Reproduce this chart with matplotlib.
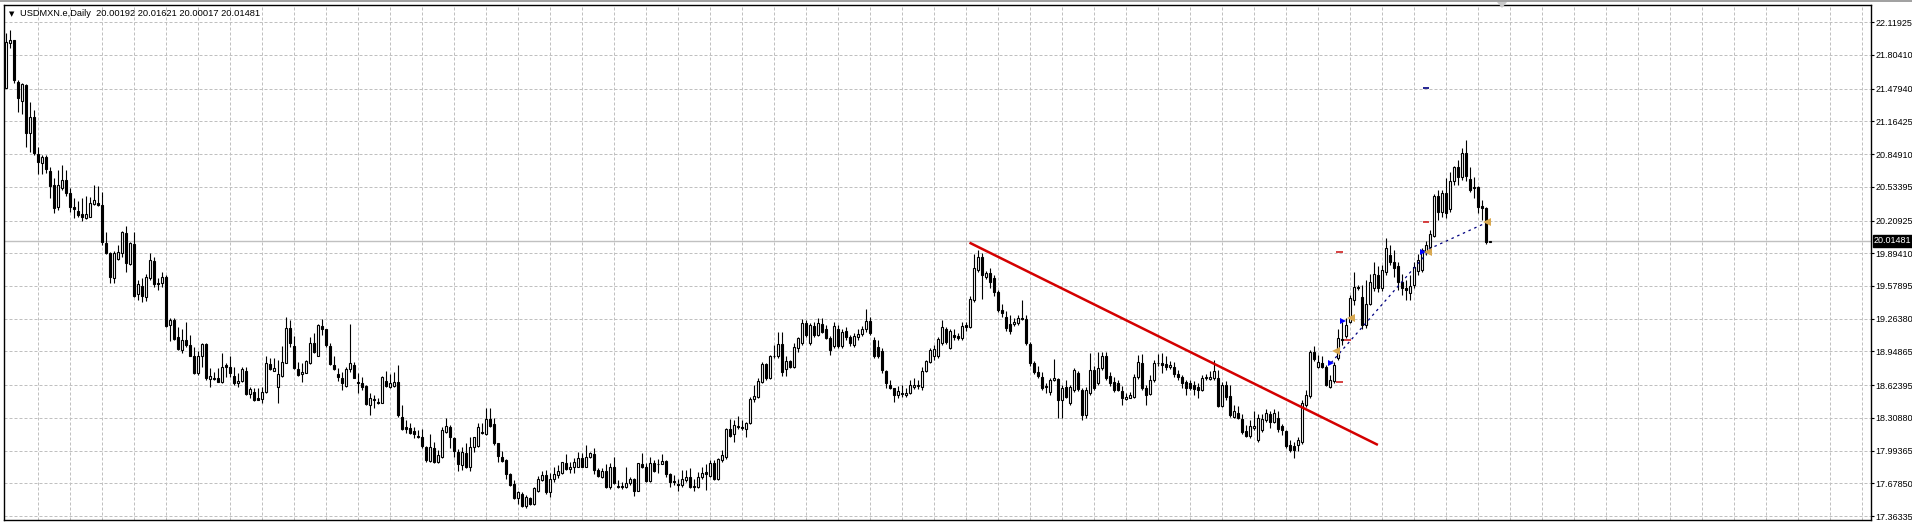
import matplotlib
matplotlib.use("Agg")
import numpy as np
import matplotlib.pyplot as plt
from matplotlib.patches import Polygon

# USDMXN daily candles (oldest first)
title = "USDMXN.e,Daily"
last_quote = "20.00192 20.01621 20.00017 20.01481"
bid = 20.01481

opens = [
    21.49, 21.92, 21.95, 21.54, 21.36, 21.51, 21.05, 21.21, 20.85, 20.76,
    20.82, 20.69, 20.55, 20.34, 20.52, 20.60, 20.47, 20.34, 20.30, 20.27,
    20.23, 20.24, 20.37, 20.38, 20.36, 19.99, 19.90, 19.66, 19.84, 19.90,
    20.09, 19.79, 19.98, 19.50, 19.58, 19.47, 19.66, 19.82, 19.61, 19.61,
    19.67, 19.20, 19.25, 19.09, 18.96, 19.06, 19.01, 18.90, 18.74, 18.90,
    19.02, 18.68, 18.69, 18.69, 18.65, 18.82, 18.80, 18.71, 18.64, 18.66,
    18.76, 18.54, 18.56, 18.50, 18.49, 18.56, 18.83, 18.76, 18.61, 18.71,
    18.84, 19.17, 19.00, 18.78, 18.73, 18.74, 18.84, 19.03, 18.90, 19.19,
    19.16, 19.00, 18.82, 18.73, 18.69, 18.62, 18.78, 18.82, 18.65, 18.64,
    18.62, 18.43, 18.49, 18.46, 18.45, 18.66, 18.61, 18.62, 18.65, 18.32,
    18.22, 18.21, 18.18, 18.13, 18.12, 18.03, 17.89, 18.02, 17.88, 17.93,
    18.17, 18.22, 18.11, 17.98, 17.85, 17.97, 17.84, 18.03, 18.04, 18.17,
    18.15, 18.30, 18.25, 18.07, 17.93, 17.90, 17.77, 17.67, 17.54, 17.58,
    17.46, 17.54, 17.48, 17.60, 17.71, 17.76, 17.59, 17.72, 17.76, 17.78,
    17.87, 17.82, 17.84, 17.84, 17.92, 17.84, 17.93, 17.96, 17.81, 17.74,
    17.80, 17.64, 17.84, 17.65, 17.65, 17.64, 17.68, 17.72, 17.60, 17.86,
    17.84, 17.70, 17.87, 17.86, 17.86, 17.89, 17.77, 17.70, 17.67, 17.66,
    17.71, 17.74, 17.65, 17.64, 17.74, 17.79, 17.75, 17.87, 17.72, 17.90,
    17.93, 18.20, 18.15, 18.23, 18.22, 18.20, 18.26, 18.49, 18.51, 18.65,
    18.83, 18.69, 18.90, 18.90, 19.02, 18.78, 18.86, 18.80, 18.98, 19.03,
    19.22, 19.03, 19.19, 19.11, 19.21, 19.16, 19.08, 19.00, 19.16, 19.00,
    19.15, 19.09, 19.01, 19.09, 19.12, 19.16, 19.24, 19.06, 18.99, 18.95,
    18.76, 18.63, 18.60, 18.53, 18.55, 18.53, 18.55, 18.61, 18.62, 18.61,
    18.76, 18.85, 18.90, 18.90, 19.03, 19.16, 18.98, 19.11, 19.10, 19.08,
    19.20, 19.18, 19.44, 19.73, 19.86, 19.67, 19.70, 19.66, 19.52, 19.35,
    19.28, 19.21, 19.21, 19.22, 19.27, 19.26, 19.02, 18.84, 18.75, 18.70,
    18.62, 18.56, 18.67, 18.68, 18.48, 18.61, 18.45, 18.58, 18.74, 18.58,
    18.34, 18.55, 18.77, 18.64, 18.79, 18.90, 18.71, 18.65, 18.64, 18.57,
    18.49, 18.50, 18.51, 18.70, 18.84, 18.60, 18.54, 18.67, 18.84, 18.84,
    18.83, 18.80, 18.80, 18.73, 18.70, 18.65, 18.64, 18.63, 18.61, 18.58,
    18.69, 18.68, 18.69, 18.69, 18.42, 18.63, 18.52, 18.32, 18.36, 18.30,
    18.18, 18.13, 18.21, 18.10, 18.19, 18.29, 18.35, 18.27, 18.31, 18.23,
    18.18, 18.05, 18.04, 18.05, 18.08, 18.43, 18.52, 18.94, 18.80, 18.84,
    18.80, 18.61, 18.66, 18.89, 19.07, 19.10, 19.23, 19.44, 19.57, 19.47,
    19.20, 19.41, 19.56, 19.68, 19.56, 19.71, 19.88, 19.81, 19.77, 19.62,
    19.56, 19.51, 19.59, 19.72, 19.73, 19.91, 19.95, 20.06, 20.45, 20.29,
    20.47, 20.32, 20.59, 20.72, 20.63, 20.86, 20.61, 20.53, 20.53, 20.35,
    20.33, 20.00192,
]
highs = [
    22.02, 22.04, 21.95, 21.56, 21.53, 21.52, 21.35, 21.27, 20.92, 20.84,
    20.84, 20.72, 20.62, 20.70, 20.74, 20.70, 20.52, 20.43, 20.40, 20.43,
    20.45, 20.44, 20.55, 20.54, 20.48, 20.10, 19.91, 19.92, 19.97, 20.11,
    20.16, 20.00, 20.10, 19.64, 19.66, 19.69, 19.90, 19.86, 19.66, 19.71,
    19.68, 19.27, 19.27, 19.18, 19.16, 19.23, 19.11, 18.99, 18.95, 19.03,
    19.03, 18.79, 18.75, 18.79, 18.93, 18.84, 18.90, 18.80, 18.74, 18.80,
    18.80, 18.61, 18.60, 18.60, 18.61, 18.90, 18.89, 18.89, 18.87, 19.00,
    19.28, 19.25, 19.10, 18.85, 18.84, 18.87, 19.09, 19.13, 19.21, 19.26,
    19.16, 19.03, 18.90, 18.79, 18.75, 18.80, 19.21, 18.85, 18.74, 18.70,
    18.63, 18.55, 18.53, 18.50, 18.71, 18.76, 18.73, 18.75, 18.82, 18.43,
    18.29, 18.26, 18.22, 18.19, 18.20, 18.04, 18.15, 18.08, 18.00, 18.22,
    18.31, 18.24, 18.12, 18.01, 18.03, 18.07, 18.12, 18.12, 18.26, 18.26,
    18.40, 18.40, 18.31, 18.07, 17.99, 17.91, 17.78, 17.71, 17.60, 17.59,
    17.57, 17.55, 17.64, 17.75, 17.80, 17.81, 17.78, 17.84, 17.85, 17.88,
    17.96, 17.88, 17.92, 17.98, 17.97, 18.05, 17.98, 18.02, 17.83, 17.83,
    17.86, 17.87, 17.93, 17.71, 17.69, 17.84, 17.74, 17.73, 17.87, 17.97,
    17.87, 17.93, 17.90, 17.91, 17.96, 17.90, 17.78, 17.76, 17.72, 17.81,
    17.81, 17.83, 17.72, 17.79, 17.84, 17.86, 17.90, 17.90, 17.92, 18.00,
    18.21, 18.30, 18.29, 18.33, 18.29, 18.27, 18.51, 18.63, 18.69, 18.85,
    18.84, 18.91, 19.01, 19.14, 19.14, 18.90, 18.87, 19.03, 19.09, 19.26,
    19.25, 19.22, 19.23, 19.27, 19.27, 19.20, 19.10, 19.23, 19.20, 19.16,
    19.18, 19.11, 19.13, 19.16, 19.19, 19.36, 19.28, 19.09, 19.06, 18.98,
    18.77, 18.67, 18.60, 18.62, 18.63, 18.60, 18.67, 18.69, 18.67, 18.80,
    18.87, 18.98, 19.01, 19.09, 19.25, 19.18, 19.16, 19.16, 19.13, 19.23,
    19.23, 19.48, 19.89, 19.93, 19.90, 19.72, 19.75, 19.68, 19.54, 19.41,
    19.34, 19.30, 19.27, 19.30, 19.44, 19.30, 19.04, 18.86, 18.81, 18.75,
    18.64, 18.69, 18.88, 18.69, 18.63, 18.67, 18.63, 18.79, 18.76, 18.60,
    18.61, 18.93, 18.81, 18.94, 18.94, 18.94, 18.75, 18.70, 18.67, 18.62,
    18.55, 18.56, 18.73, 18.91, 18.92, 18.63, 18.72, 18.87, 18.92, 18.93,
    18.90, 18.86, 18.85, 18.77, 18.72, 18.67, 18.67, 18.66, 18.64, 18.72,
    18.73, 18.76, 18.87, 18.77, 18.65, 18.66, 18.63, 18.43, 18.42, 18.35,
    18.24, 18.29, 18.37, 18.35, 18.35, 18.39, 18.37, 18.39, 18.37, 18.25,
    18.19, 18.10, 18.08, 18.12, 18.48, 18.58, 18.96, 19.00, 18.91, 18.90,
    18.82, 18.72, 18.85, 19.16, 19.23, 19.27, 19.49, 19.71, 19.59, 19.59,
    19.64, 19.69, 19.81, 19.77, 19.78, 20.04, 19.97, 19.93, 19.81, 19.69,
    19.64, 19.68, 19.81, 19.89, 19.94, 20.01, 20.12, 20.46, 20.50, 20.50,
    20.62, 20.68, 20.73, 20.79, 20.91, 20.98, 20.72, 20.63, 20.54, 20.41,
    20.34, 20.01621,
]
lows = [
    21.49, 21.87, 21.53, 21.25, 21.24, 20.92, 20.87, 20.84, 20.66, 20.66,
    20.67, 20.43, 20.28, 20.31, 20.50, 20.45, 20.29, 20.23, 20.24, 20.20,
    20.22, 20.24, 20.36, 20.35, 19.97, 19.89, 19.61, 19.61, 19.83, 19.86,
    19.71, 19.78, 19.47, 19.44, 19.42, 19.43, 19.64, 19.57, 19.54, 19.57,
    19.18, 19.05, 19.06, 18.96, 18.93, 18.99, 18.90, 18.73, 18.72, 18.80,
    18.67, 18.61, 18.67, 18.65, 18.64, 18.70, 18.70, 18.63, 18.61, 18.65,
    18.53, 18.50, 18.47, 18.48, 18.45, 18.55, 18.77, 18.76, 18.45, 18.70,
    18.84, 18.99, 18.78, 18.71, 18.65, 18.74, 18.83, 18.93, 18.90, 19.11,
    18.99, 18.82, 18.77, 18.66, 18.58, 18.61, 18.75, 18.69, 18.55, 18.58,
    18.43, 18.34, 18.40, 18.44, 18.45, 18.61, 18.60, 18.61, 18.32, 18.19,
    18.16, 18.15, 18.11, 18.11, 18.02, 17.88, 17.88, 17.87, 17.87, 17.92,
    18.16, 18.02, 17.93, 17.80, 17.81, 17.83, 17.80, 17.98, 18.03, 18.15,
    18.14, 18.22, 18.05, 17.88, 17.88, 17.72, 17.65, 17.53, 17.48, 17.45,
    17.44, 17.47, 17.47, 17.59, 17.70, 17.58, 17.55, 17.69, 17.73, 17.77,
    17.81, 17.78, 17.78, 17.84, 17.84, 17.84, 17.92, 17.77, 17.74, 17.73,
    17.63, 17.62, 17.67, 17.63, 17.62, 17.63, 17.66, 17.56, 17.60, 17.83,
    17.69, 17.69, 17.79, 17.78, 17.86, 17.74, 17.64, 17.66, 17.60, 17.64,
    17.69, 17.63, 17.60, 17.63, 17.72, 17.61, 17.74, 17.71, 17.71, 17.88,
    17.91, 18.12, 18.08, 18.20, 18.19, 18.12, 18.25, 18.46, 18.50, 18.64,
    18.67, 18.68, 18.89, 18.89, 18.71, 18.71, 18.79, 18.79, 18.94, 19.01,
    19.09, 19.01, 19.09, 19.10, 19.13, 19.07, 18.91, 18.98, 18.98, 18.98,
    19.06, 19.00, 18.99, 19.06, 19.10, 19.14, 19.11, 18.89, 18.89, 18.74,
    18.60, 18.59, 18.46, 18.50, 18.51, 18.51, 18.54, 18.59, 18.59, 18.58,
    18.75, 18.84, 18.87, 18.89, 19.01, 19.02, 18.97, 19.06, 19.06, 19.06,
    19.15, 19.17, 19.42, 19.71, 19.45, 19.65, 19.56, 19.48, 19.33, 19.28,
    19.15, 19.12, 19.19, 19.20, 19.25, 19.01, 18.81, 18.73, 18.69, 18.58,
    18.55, 18.53, 18.66, 18.31, 18.31, 18.50, 18.43, 18.56, 18.57, 18.29,
    18.31, 18.53, 18.58, 18.63, 18.77, 18.67, 18.62, 18.56, 18.57, 18.43,
    18.48, 18.50, 18.50, 18.68, 18.58, 18.43, 18.53, 18.65, 18.81, 18.74,
    18.77, 18.78, 18.70, 18.67, 18.60, 18.53, 18.58, 18.53, 18.50, 18.57,
    18.67, 18.67, 18.67, 18.41, 18.41, 18.48, 18.32, 18.31, 18.30, 18.15,
    18.12, 18.11, 18.19, 18.08, 18.17, 18.27, 18.21, 18.26, 18.17, 18.14,
    18.02, 17.98, 17.92, 17.99, 18.06, 18.41, 18.50, 18.86, 18.79, 18.79,
    18.62, 18.60, 18.64, 18.87, 19.01, 19.08, 19.22, 19.40, 19.54, 19.16,
    19.17, 19.40, 19.53, 19.52, 19.53, 19.68, 19.78, 19.67, 19.54, 19.49,
    19.44, 19.44, 19.56, 19.68, 19.71, 19.88, 19.93, 20.05, 20.21, 20.24,
    20.23, 20.29, 20.55, 20.55, 20.60, 20.59, 20.48, 20.43, 20.28, 20.21,
    19.98, 20.00017,
]
closes = [
    21.93, 21.95, 21.56, 21.39, 21.52, 21.05, 21.21, 20.86, 20.77, 20.82,
    20.71, 20.54, 20.33, 20.55, 20.60, 20.47, 20.34, 20.32, 20.26, 20.24,
    20.27, 20.38, 20.41, 20.36, 20.00, 19.90, 19.67, 19.90, 19.91, 20.10,
    19.80, 19.99, 19.48, 19.60, 19.48, 19.67, 19.83, 19.60, 19.60, 19.67,
    19.19, 19.25, 19.07, 18.97, 19.06, 19.01, 18.90, 18.74, 18.90, 19.02,
    18.69, 18.71, 18.68, 18.65, 18.80, 18.80, 18.74, 18.64, 18.66, 18.78,
    18.54, 18.59, 18.48, 18.48, 18.56, 18.84, 18.78, 18.79, 18.73, 18.85,
    19.17, 19.03, 18.79, 18.72, 18.75, 18.86, 19.03, 18.94, 19.20, 19.16,
    19.01, 18.83, 18.78, 18.70, 18.64, 18.78, 18.84, 18.69, 18.64, 18.61,
    18.44, 18.50, 18.48, 18.45, 18.70, 18.62, 18.64, 18.65, 18.34, 18.20,
    18.20, 18.16, 18.15, 18.12, 18.04, 17.90, 18.03, 17.88, 17.95, 18.19,
    18.23, 18.12, 17.99, 17.86, 17.98, 17.84, 18.03, 18.12, 18.22, 18.16,
    18.30, 18.23, 18.07, 17.94, 17.89, 17.77, 17.66, 17.54, 17.59, 17.46,
    17.55, 17.48, 17.63, 17.72, 17.76, 17.59, 17.72, 17.77, 17.80, 17.88,
    17.82, 17.84, 17.88, 17.92, 17.84, 17.93, 17.97, 17.81, 17.75, 17.80,
    17.64, 17.84, 17.68, 17.64, 17.64, 17.68, 17.72, 17.60, 17.87, 17.84,
    17.70, 17.87, 17.80, 17.86, 17.89, 17.77, 17.69, 17.69, 17.66, 17.72,
    17.74, 17.64, 17.64, 17.74, 17.78, 17.77, 17.87, 17.72, 17.91, 17.95,
    18.20, 18.13, 18.24, 18.22, 18.21, 18.26, 18.49, 18.52, 18.66, 18.83,
    18.69, 18.90, 18.90, 19.02, 18.75, 18.86, 18.80, 18.99, 19.08, 19.22,
    19.11, 19.20, 19.11, 19.22, 19.14, 19.08, 18.96, 19.19, 19.00, 19.14,
    19.09, 19.03, 19.10, 19.12, 19.16, 19.24, 19.13, 18.90, 18.90, 18.77,
    18.64, 18.60, 18.53, 18.57, 18.54, 18.55, 18.63, 18.63, 18.63, 18.76,
    18.86, 18.96, 18.97, 19.07, 19.18, 19.04, 19.15, 19.09, 19.08, 19.19,
    19.18, 19.45, 19.75, 19.86, 19.68, 19.70, 19.62, 19.52, 19.35, 19.32,
    19.17, 19.15, 19.23, 19.27, 19.26, 19.03, 18.84, 18.75, 18.71, 18.60,
    18.61, 18.67, 18.69, 18.48, 18.60, 18.51, 18.61, 18.77, 18.59, 18.34,
    18.58, 18.77, 18.60, 18.79, 18.90, 18.69, 18.64, 18.58, 18.58, 18.50,
    18.51, 18.53, 18.70, 18.85, 18.60, 18.53, 18.67, 18.84, 18.84, 18.82,
    18.80, 18.82, 18.73, 18.70, 18.64, 18.60, 18.60, 18.59, 18.58, 18.69,
    18.70, 18.70, 18.76, 18.42, 18.63, 18.51, 18.34, 18.37, 18.31, 18.17,
    18.13, 18.23, 18.23, 18.31, 18.30, 18.36, 18.27, 18.36, 18.20, 18.19,
    18.04, 18.00, 18.00, 18.10, 18.45, 18.53, 18.94, 18.88, 18.85, 18.80,
    18.63, 18.67, 18.82, 19.08, 19.06, 19.20, 19.46, 19.57, 19.56, 19.20,
    19.41, 19.62, 19.69, 19.56, 19.73, 19.94, 19.81, 19.75, 19.62, 19.56,
    19.54, 19.58, 19.76, 19.83, 19.93, 19.97, 20.08, 20.45, 20.29, 20.47,
    20.28, 20.59, 20.72, 20.63, 20.86, 20.64, 20.50, 20.52, 20.34, 20.33,
    20.00, 20.01481,
]

price_ticks = [22.11925, 21.80410, 21.47940, 21.16425, 20.84910, 20.53395,
               20.20925, 19.89410, 19.57895, 19.26380, 18.94865, 18.62395,
               18.30880, 17.99365, 17.67850, 17.36335]

# drawn objects: trendline (bar index, price) and trade history marks
trend_x = [241.0, 343.1]
trend_y = [19.996, 18.048]
open_x = [331.4, 334.4, 354.4]
open_y = [18.840, 19.242, 19.909]
close_x = [332.5, 336.4, 355.7, 370.4]
close_y = [18.956, 19.268, 19.909, 20.192]
trade_from = [(331.4, 18.840), (354.4, 19.909)]
trade_to = [(355.7, 19.909), (370.4, 20.192)]
sl_x = [333.4, 333.4, 335.4, 355.1]
sl_y = [19.903, 18.657, 19.054, 20.192]
tp_x = [355.1]
tp_y = [21.483]

n = len(closes)
assert len(opens) == len(highs) == len(lows) == n

W, H = 1912, 522
fig = plt.figure(figsize=(W / 100, H / 100), dpi=100)
fig.patch.set_facecolor("white")
ax = fig.add_axes([4 / W, 2 / H, 1867 / W, 515 / H])
ax.set_xlim(-0.375, -0.375 + 1867 / 4)
ax.set_ylim(17.325, 22.285)

ax.set_xticks(np.arange(8, 467, 8))
ax.set_yticks(price_ticks)
ax.set_yticklabels([f"{t:.5f}" for t in price_ticks])
ax.yaxis.tick_right()
ax.tick_params(axis="x", length=0, labelbottom=False)
ax.tick_params(axis="y", length=2.2, width=0.8, pad=0.8, labelsize=6.5,
               colors="black")
for lab in ax.get_yticklabels():
    lab.set_fontfamily("Liberation Sans")
ax.grid(True, color="#c0c0c0", linestyle=(0, (3, 2)), linewidth=0.72)
ax.set_axisbelow(True)
for sp in ax.spines.values():
    sp.set_color("black")
    sp.set_linewidth(1)

ax.axhline(bid, color="#c0c0c0", lw=1.0, zorder=1.5)

x = np.arange(n)
o = np.array(opens)
c = np.array(closes)
hi = np.maximum(np.array(highs), np.maximum(o, c))
lo = np.minimum(np.array(lows), np.minimum(o, c))
ax.vlines(x, lo, hi, color="black", lw=0.8, zorder=2)
up = c >= o
ax.bar(x, np.abs(c - o), bottom=np.minimum(o, c), width=0.5,
       color=np.where(up, "white", "black"), edgecolor="black",
       linewidth=0.8, zorder=3)

# trendline and trade history
ax.plot(trend_x, trend_y, color="#d40000", lw=1.8, zorder=4,
        solid_capstyle="butt")
for (x0, y0), (x1, y1) in zip(trade_from, trade_to):
    ax.plot([x0, x1], [y0, y1], color="#000080", lw=0.9,
            linestyle=(0, (2, 3)), zorder=4)
ax.hlines(sl_y, np.array(sl_x) - 0.85, np.array(sl_x) + 0.85,
          color="#d02020", lw=1.2, zorder=4)
ax.hlines(tp_y, np.array(tp_x) - 0.85, np.array(tp_x) + 0.85,
          color="#000080", lw=1.2, zorder=4)
ax.plot(open_x, open_y, ">", color="#0000ff", ms=5, mew=0, zorder=5)
ax.plot(close_x, close_y, "<", color="#d8a850", ms=6, mew=0, zorder=5)

# current price box on the axis
ax.annotate(f"{bid:.5f}", xy=(1, bid), xycoords=("axes fraction", "data"),
            xytext=(3, 0), textcoords="offset pixels", color="white",
            fontsize=6.5, va="center", ha="left", family="Liberation Sans",
            bbox=dict(boxstyle="square,pad=0.15", fc="black", ec="black"),
            annotation_clip=False, zorder=6)

# header
fig.text(11.7 / W, 1 - 14 / H, "\u25BC", fontsize=5, ha="center",
         va="center", color="black")
fig.text(20.5 / W, 1 - 14 / H, f"{title}  {last_quote}", fontsize=6.7,
         ha="left", va="center", family="Liberation Sans", color="black")

# chart shift marker and window edge at the top
fig.add_artist(Polygon([[1497 / W, 1 - 2 / H], [1507 / W, 1 - 2 / H],
                        [1502 / W, 1 - 8 / H]], closed=True,
                       transform=fig.transFigure, fc="#c8c8c8", ec="none"))
fig.add_artist(plt.Line2D([0, 1], [1 - 1 / H, 1 - 1 / H],
                          transform=fig.transFigure, color="#a0a0a0", lw=1.4))

fig.savefig("out.png", dpi=100)
